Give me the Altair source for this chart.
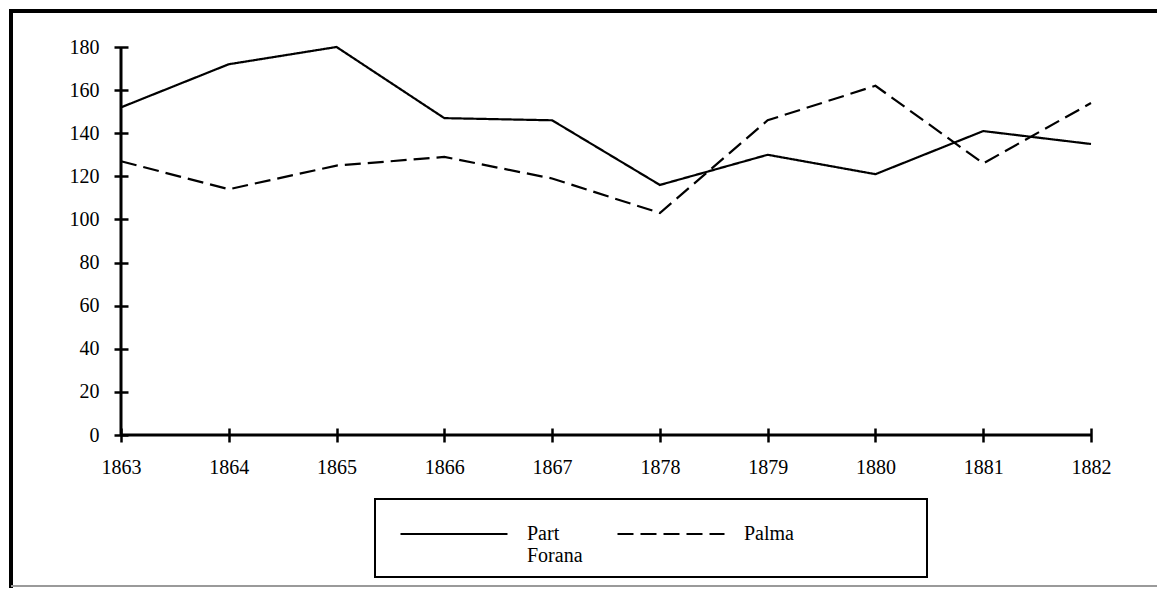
import altair as alt
import pandas as pd

# ---- data ----
years = ["1863", "1864", "1865", "1866", "1867", "1878", "1879", "1880", "1881", "1882"]
part_forana = [152, 172, 180, 147, 146, 116, 130, 121, 141, 135]
palma = [127, 114, 125, 129, 119, 103, 146, 162, 126, 154]
series_names = ["Part Forana", "Palma"]
y_ticks = [0, 20, 40, 60, 80, 100, 120, 140, 160, 180]

rows = []
for name, vals in zip(series_names, [part_forana, palma]):
    for yr, v in zip(years, vals):
        rows.append({"year": yr, "value": v, "series": name})
df = pd.DataFrame(rows)

FONT = "Liberation Serif"
W, H = 970, 388
PAD = {"left": 113, "top": 39, "right": 66, "bottom": 153}

lines = alt.Chart(df).mark_line(color="black", strokeWidth=2.2).encode(
    x=alt.X(
        "year:O",
        sort=years,
        scale=alt.Scale(type="point", padding=0),
        axis=alt.Axis(
            title=None, labelAngle=0, offset=-7, tickSize=14, tickWidth=2.5,
            tickColor="black", domain=False, grid=False, labelPadding=15,
            labelFont=FONT, labelFontSize=20, labelColor="black",
        ),
    ),
    y=alt.Y(
        "value:Q",
        scale=alt.Scale(domain=[0, 180], nice=False),
        axis=alt.Axis(
            values=y_ticks, title=None, offset=-7, tickSize=14, tickWidth=2.5,
            tickColor="black", domain=False, grid=False, labelPadding=15,
            labelFont=FONT, labelFontSize=20, labelColor="black",
        ),
    ),
    strokeDash=alt.StrokeDash(
        "series:N",
        sort=series_names,
        scale=alt.Scale(domain=series_names, range=[[1, 0], [16, 7]]),
        legend=alt.Legend(
            title=None, orient="none", legendX=321, legendY=475,
            direction="horizontal", symbolType="M-5,0L5,0", symbolSize=458,
            symbolStrokeWidth=2, symbolStrokeColor="black", symbolFillColor="transparent",
            labelFont=FONT, labelFontSize=20, labelColor="black",
            labelOffset=61, columnPadding=30, padding=0,
            labelExpr="datum.label == 'Part Forana' ? ['Part', 'Forana'] : [datum.label, ' ']",
        ),
    ),
)

base = alt.Chart(pd.DataFrame({"a": [0]}))

y_domain = base.mark_rule(color="black", strokeWidth=3).encode(
    x=alt.value(0), y=alt.value(0), y2=alt.value(H)
)
x_domain = base.mark_rule(color="black", strokeWidth=3).encode(
    x=alt.value(0), x2=alt.value(W), y=alt.value(H)
)
legend_box = base.mark_rect(fill="transparent", stroke="black", strokeWidth=2).encode(
    x=alt.value(254), x2=alt.value(806), y=alt.value(452), y2=alt.value(530)
)
frame_left = base.mark_rule(color="black", strokeWidth=4).encode(
    x=alt.value(-110), y=alt.value(-38), y2=alt.value(541)
)
frame_top = base.mark_rule(color="black", strokeWidth=4).encode(
    x=alt.value(-112), x2=alt.value(1036), y=alt.value(-36)
)
frame_bottom = base.mark_rule(color="#9a9a9a", strokeWidth=2).encode(
    x=alt.value(-110), x2=alt.value(1036), y=alt.value(539)
)

chart = alt.layer(
    frame_left, frame_top, frame_bottom, legend_box, lines, y_domain, x_domain
).properties(
    width=W, height=H, padding=PAD, autosize=alt.AutoSizeParams(type="none"),
    background="white",
).configure_view(stroke=None)

chart.save("out.html", embed_options={"renderer": "svg", "actions": False})
